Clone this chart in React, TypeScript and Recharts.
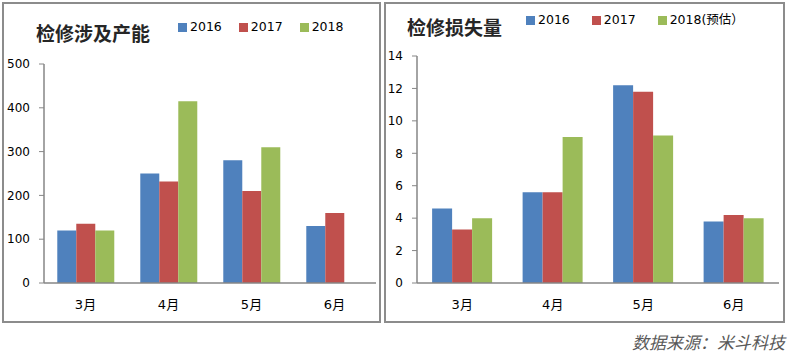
import { BarChart, Bar, XAxis, YAxis } from 'recharts';

const months = ['3月', '4月', '5月', '6月'];

const capacity2016 = [120, 250, 280, 130];
const capacity2017 = [135, 232, 210, 160];
const capacity2018 = [120, 415, 310, null];
const capacityTicks = [0, 100, 200, 300, 400, 500];
const capacityNames = ['2016', '2017', '2018'];

const loss2016 = [4.6, 5.6, 12.2, 3.8];
const loss2017 = [3.3, 5.6, 11.8, 4.2];
const loss2018 = [4.0, 9.0, 9.1, 4.0];
const lossTicks = [0, 2, 4, 6, 8, 10, 12, 14];
const lossNames = ['2016', '2017', '2018(预估）'];

const boundaryTicks = [0, 1, 2, 3, 4];
const colors = ['#4F81BD', '#C0504D', '#9BBB59'];
const axisColor = '#868686';
const numFont = '"DejaVu Sans", "Noto Sans CJK SC", sans-serif';
const cjkFont = '"Noto Sans CJK SC", sans-serif';

const toRows = (a: (number | null)[], b: (number | null)[], c: (number | null)[]) =>
  months.map((m, i) => ({ month: m, s0: a[i], s1: b[i], s2: c[i] }));

interface PanelProps {
  left: number;
  width: number;
  height: number;
  title: string;
  titleX: number;
  titleY: number;
  names: string[];
  legendX: number;
  legendY: number;
  legendGap: number;
  rows: ReturnType<typeof toRows>;
  ticks: number[];
  yWidth: number;
  margin: { top: number; right: number; bottom: number; left: number };
  gap: string;
}

function Panel(p: PanelProps) {
  return (
    <div style={{ position: 'absolute', left: p.left, top: 0, width: p.width, height: p.height }}>
      <BarChart
        width={p.width}
        height={p.height}
        data={p.rows}
        margin={p.margin}
        barCategoryGap={p.gap}
        barGap={0}
      >
        {/* hidden numeric axis, only used to put tick marks on the category boundaries */}
        <XAxis
          xAxisId="edge"
          type="number"
          domain={[0, 4]}
          ticks={boundaryTicks}
          height={0}
          axisLine={false}
          tickSize={6}
          tickFormatter={() => ''}
          tickLine={{ stroke: axisColor }}
        />
        <XAxis
          dataKey="month"
          height={30}
          tickLine={false}
          tickSize={6}
          tickMargin={11}
          axisLine={{ stroke: axisColor, strokeWidth: 1.5 }}
          tick={{ fill: '#000', fontSize: 13, fontFamily: numFont }}
        />
        <YAxis
          width={p.yWidth}
          domain={[p.ticks[0], p.ticks[p.ticks.length - 1]]}
          ticks={p.ticks}
          interval={0}
          tickSize={5}
          tickMargin={9}
          axisLine={{ stroke: axisColor, strokeWidth: 1.5 }}
          tickLine={{ stroke: axisColor }}
          tick={{ fill: '#000', fontSize: 12, fontFamily: numFont }}
        />
        {['s0', 's1', 's2'].map((k, i) => (
          <Bar key={k} dataKey={k} name={p.names[i]} fill={colors[i]} isAnimationActive={false} />
        ))}
      </BarChart>
      <div
        style={{
          position: 'absolute',
          left: p.titleX,
          top: p.titleY,
          fontFamily: cjkFont,
          fontWeight: 700,
          fontSize: 19,
          lineHeight: '20px',
          color: '#262626',
          whiteSpace: 'nowrap',
        }}
      >
        {p.title}
      </div>
      <div
        style={{
          position: 'absolute',
          left: p.legendX,
          top: p.legendY,
          display: 'flex',
          alignItems: 'center',
          gap: p.legendGap,
          fontFamily: numFont,
          fontSize: 12.5,
          lineHeight: '14px',
          color: '#000',
          whiteSpace: 'nowrap',
        }}
      >
        {p.names.map((n, i) => (
          <span key={n} style={{ display: 'flex', alignItems: 'center' }}>
            <span style={{ width: 9, height: 9, background: colors[i], marginRight: 3, display: 'inline-block' }} />
            {n}
          </span>
        ))}
      </div>
    </div>
  );
}

export default function App() {
  return (
    <div style={{ position: 'absolute', left: 0, top: 0, width: 792, height: 354, background: '#fff' }}>
      <div
        style={{
          position: 'absolute', left: 2, top: 2, width: 379, height: 321,
          border: '2px solid #8c8c8c', boxSizing: 'border-box',
        }}
      />
      <div
        style={{
          position: 'absolute', left: 384, top: 2, width: 401, height: 321,
          border: '2px solid #8c8c8c', boxSizing: 'border-box',
        }}
      />
      <Panel
        left={0}
        width={380}
        height={322}
        title="检修涉及产能"
        titleX={36}
        titleY={23}
        names={capacityNames}
        legendX={178}
        legendY={20}
        legendGap={17}
        rows={toRows(capacity2016, capacity2017, capacity2018)}
        ticks={capacityTicks}
        yWidth={40}
        margin={{ top: 64, right: 4, bottom: 9, left: 4 }}
        gap="16%"
      />
      <Panel
        left={380}
        width={405}
        height={322}
        title="检修损失量"
        titleX={27}
        titleY={17}
        names={lossNames}
        legendX={146}
        legendY={13}
        legendGap={22}
        rows={toRows(loss2016, loss2017, loss2018)}
        ticks={lossTicks}
        yWidth={33}
        margin={{ top: 56, right: 6, bottom: 9, left: 4 }}
        gap="16.7%"
      />
      <div
        style={{
          position: 'absolute',
          left: 632,
          top: 332,
          fontFamily: cjkFont,
          fontStyle: 'italic',
          fontSize: 17,
          lineHeight: '20px',
          color: '#595959',
          whiteSpace: 'nowrap',
        }}
      >
        数据来源：米斗科技
      </div>
    </div>
  );
}
